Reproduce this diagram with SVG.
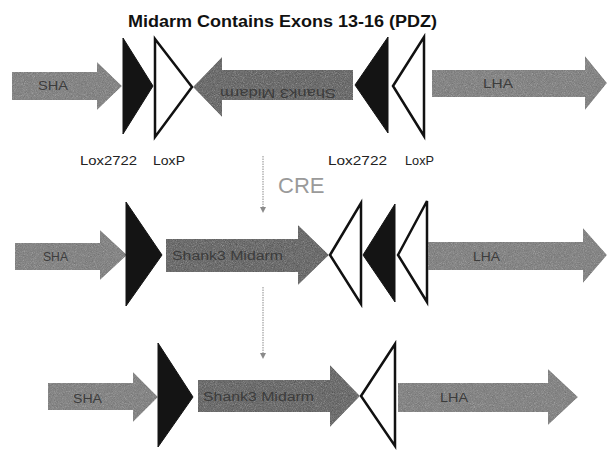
<svg xmlns="http://www.w3.org/2000/svg" width="608" height="451" viewBox="0 0 608 451">
<style>
.arm{fill:#9c9c9c;filter:url(#grain)}
.mid{fill:#8a8a8a;filter:url(#grain)}
.lox2722{fill:#141414;stroke:#141414;stroke-width:1;stroke-linejoin:round}
.loxp{fill:#ffffff;stroke:#111111;stroke-width:2.5;stroke-linejoin:miter}
.lbl{font-family:"Liberation Sans",Arial,sans-serif;font-size:12.5px;fill:#3c3c3c}
.site{font-family:"Liberation Sans",Arial,sans-serif;font-size:12px;fill:#222222}
.title{font-family:"Liberation Sans",Arial,sans-serif;font-size:16px;font-weight:bold;fill:#111111}
.cre{font-family:"Liberation Sans",Arial,sans-serif;font-size:22px;fill:#9a9a9a}
.conn{stroke:#8a8a8a;stroke-width:1;stroke-dasharray:1.5 1;fill:none}
</style>
<defs>
<filter id="grain" x="0" y="0" width="100%" height="100%">
<feTurbulence type="fractalNoise" baseFrequency="1.1" numOctaves="2" seed="4" result="n"/>
<feColorMatrix in="n" type="saturate" values="0" result="g"/>
<feComposite in="SourceGraphic" in2="g" operator="arithmetic" k1="0" k2="1" k3="0.45" k4="-0.22" result="m"/>
<feComposite in="m" in2="SourceGraphic" operator="in"/>
</filter>
</defs>

<text class="title" x="128" y="27" textLength="309" lengthAdjust="spacingAndGlyphs">Midarm Contains Exons 13-16 (PDZ)</text>

<g id="connectors">
<line class="conn" x1="263" y1="156" x2="263" y2="211"/>
<path d="M260,207 L263,213 L266,207 Z" fill="#8a8a8a"/>
<line class="conn" x1="263" y1="287" x2="263" y2="357"/>
<path d="M260,353 L263,359 L266,353 Z" fill="#8a8a8a"/>
<text class="cre" x="278" y="193">CRE</text>
</g>

<!-- Row 1 -->
<g id="r1-sha">
<polygon class="arm" points="12,72 97,72 97,62 122,86 97,110 97,100 12,100"/>
<text class="lbl" x="38" y="90" textLength="30" lengthAdjust="spacingAndGlyphs">SHA</text>
</g>
<g id="r1-lox2722-a">
<polygon class="lox2722" points="123,38 153,86 123,134"/>
<text class="site" x="80" y="165" textLength="57" lengthAdjust="spacingAndGlyphs">Lox2722</text>
</g>
<g id="r1-loxp-a">
<polygon class="loxp" points="155,39 192,87 155,137"/>
<text class="site" x="153" y="165" textLength="32" lengthAdjust="spacingAndGlyphs">LoxP</text>
</g>
<g id="r1-midarm">
<polygon class="mid" points="193,87 222,57 222,70 353,70 353,100 222,100 222,117"/>
<text class="lbl" x="220" y="81" transform="rotate(180 278 85)" textLength="116" lengthAdjust="spacingAndGlyphs">Shank3 Midarm</text>
</g>
<g id="r1-lox2722-b">
<polygon class="lox2722" points="355,85 388,37 388,133"/>
<text class="site" x="328" y="165" textLength="59" lengthAdjust="spacingAndGlyphs">Lox2722</text>
</g>
<g id="r1-loxp-b">
<polygon class="loxp" points="393,86 424,37 424,136"/>
<text class="site" x="405" y="165" textLength="29" lengthAdjust="spacingAndGlyphs">LoxP</text>
</g>
<g id="r1-lha">
<polygon class="arm" points="432,70 585,70 585,56 607,83 585,110 585,97 432,97"/>
<text class="lbl" x="483" y="88" textLength="30" lengthAdjust="spacingAndGlyphs">LHA</text>
</g>

<!-- Row 2 -->
<g id="r2-sha">
<polygon class="arm" points="15,243 100,243 100,230 127,255 100,280 100,270 15,270"/>
<text class="lbl" x="43" y="261" textLength="25" lengthAdjust="spacingAndGlyphs">SHA</text>
</g>
<g id="r2-lox2722">
<polygon class="lox2722" points="126,202 162,255 126,306"/>
</g>
<g id="r2-midarm">
<polygon class="mid" points="166,239 298,239 298,225 329,255 298,285 298,272 166,272"/>
<text class="lbl" x="172" y="260" textLength="111" lengthAdjust="spacingAndGlyphs">Shank3 Midarm</text>
</g>
<g id="r2-loxp-a">
<polygon class="loxp" points="330,255 361,203 361,304"/>
</g>
<g id="r2-lox2722-b">
<polygon class="lox2722" points="363,255 395,204 395,302"/>
</g>
<g id="r2-loxp-b">
<polygon class="loxp" points="398,255 427,201 427,302"/>
</g>
<g id="r2-lha">
<polygon class="arm" points="428,242 583,242 583,228 607,255 583,283 583,270 428,270"/>
<text class="lbl" x="473" y="261" textLength="27" lengthAdjust="spacingAndGlyphs">LHA</text>
</g>

<!-- Row 3 -->
<g id="r3-sha">
<polygon class="arm" points="48,383 133,383 133,372 158,397 133,422 133,410 48,410"/>
<text class="lbl" x="73" y="403" textLength="29" lengthAdjust="spacingAndGlyphs">SHA</text>
</g>
<g id="r3-lox2722">
<polygon class="lox2722" points="158,343 193,397 158,447"/>
</g>
<g id="r3-midarm">
<polygon class="mid" points="198,380 330,380 330,365 360,396 330,427 330,412 198,412"/>
<text class="lbl" x="203" y="401" textLength="111" lengthAdjust="spacingAndGlyphs">Shank3 Midarm</text>
</g>
<g id="r3-loxp">
<polygon class="loxp" points="361,396 395,344 395,446"/>
</g>
<g id="r3-lha">
<polygon class="arm" points="398,383 548,383 548,369 578,397 548,425 548,412 398,412"/>
<text class="lbl" x="440" y="402" textLength="28" lengthAdjust="spacingAndGlyphs">LHA</text>
</g>
</svg>
